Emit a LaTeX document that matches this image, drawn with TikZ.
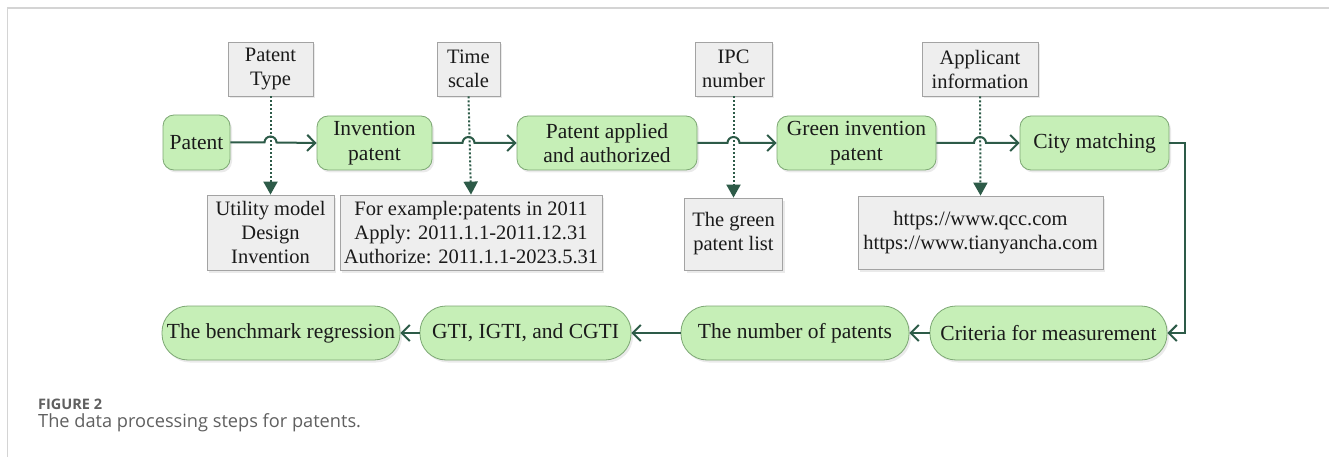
\documentclass[tikz,border=0pt]{standalone}
\usepackage{fontspec}
\setmainfont{Liberation Serif}
\newfontfamily\capfont{Open Sans}
\usetikzlibrary{arrows.meta,shadows,calc}

\definecolor{nodefill}{HTML}{C6EFB7}
\definecolor{nodeedge}{HTML}{7DA874}
\definecolor{flowcol}{HTML}{2D5B48}
\definecolor{notefill}{HTML}{EEEEEE}
\definecolor{noteedge}{HTML}{A3A3A3}
\definecolor{framecol}{HTML}{D4D4D4}
\definecolor{capcol}{HTML}{606060}
\definecolor{inkcol}{HTML}{1A1A1A}

\begin{document}
\begin{tikzpicture}[x=1pt,y=-1pt,
  every node/.style={font=\fontsize{21.5}{24.5}\selectfont, align=center, inner sep=0pt, text=inkcol},
  softshadow/.style={drop shadow={opacity=0.16, shadow xshift=2pt, shadow yshift=-2.5pt}},
  stepbox/.style={draw=nodeedge, line width=0.8pt, fill=nodefill, rounded corners=11pt, softshadow},
  pill/.style={draw=nodeedge, line width=0.8pt, fill=nodefill, rounded corners=26pt, softshadow, minimum height=54pt},
  notebox/.style={draw=noteedge, line width=0.8pt, fill=notefill, softshadow, font=\fontsize{20.5}{24}\selectfont},
  flow/.style={draw=flowcol, line width=2pt, -{Straight Barb[length=8pt,width=16pt,line width=2pt]}},
  hint/.style={draw=flowcol, line width=2pt, dotted, -{Triangle[length=13pt,width=14pt]}},
]
% canvas
\fill[white] (0,0) rectangle (1329,457);
\useasboundingbox (0,0) rectangle (1329,457);
\draw[framecol, line width=2pt] (7,8) -- (1329,8);
\draw[framecol, line width=1pt] (7.5,8) -- (7.5,457);

% main processing chain
\node[stepbox, minimum width=67pt, minimum height=55pt] (s1) at (196.5,142.5) {Patent};
\node[stepbox, minimum width=115pt, minimum height=54pt] (s2) at (374.5,143) {Invention\\patent};
\node[stepbox, minimum width=180pt, minimum height=54pt] (s3) at (607,143) {Patent applied\\and authorized};
\node[stepbox, minimum width=159pt, minimum height=54pt] (s4) at (856.5,143) {Green invention\\patent};
\node[stepbox, minimum width=149pt, minimum height=54pt] (s5) at (1094.5,143) {City matching};

% criteria above the chain
\node[notebox, minimum width=85pt, minimum height=54pt] (t1) at (270.5,69) {Patent\\Type};
\node[notebox, minimum width=63pt, minimum height=54pt] (t2) at (468.5,69) {Time\\scale};
\node[notebox, minimum width=77pt, minimum height=54pt] (t3) at (733.5,69) {IPC\\number};
\node[notebox, minimum width=116pt, minimum height=54pt] (t4) at (980,69) {Applicant\\information};

% details below the chain
\node[notebox, minimum width=127pt, minimum height=75pt] (b1) at (270.5,232.5) {Utility model\\Design\\Invention};
\node[notebox, minimum width=262pt, minimum height=75pt] (b2) at (471,232.5) {For example:patents in 2011\\Apply: 2011.1.1-2011.12.31\\Authorize: 2011.1.1-2023.5.31};
\node[notebox, minimum width=98pt, minimum height=72pt] (b3) at (733.5,234) {The green\\patent list};
\node[notebox, minimum width=245pt, minimum height=73pt] (b4) at (980.5,232.5) {https://www.qcc.com\\https://www.tianyancha.com};

% second row
\node[pill, minimum width=238pt] (r1) at (281,333) {The benchmark regression};
\node[pill, minimum width=211pt] (r2) at (525.5,333) {GTI, IGTI, and CGTI};
\node[pill, minimum width=228pt] (r3) at (795,333) {The number of patents};
\node[pill, minimum width=237pt] (r4) at (1048.5,333) {Criteria for measurement};

% dotted links from criteria to details
\draw[hint] (t1.south) -- (b1.north);
\draw[hint] (t2.south) -- (b2.north);
\draw[hint] (t3.south) -- (b3.north);
\draw[hint] (t4.south) -- (b4.north);

% chain arrows, hopping over the dotted links
\draw[flow] (s1.east) -- ($(t1.south |- s1.east)-(6,0)$) arc[start angle=180,end angle=0,radius=6pt] -- (s2.west);
\draw[flow] (s2.east) -- ($(t2.south |- s2.east)-(6,0)$) arc[start angle=180,end angle=0,radius=6pt] -- (s3.west);
\draw[flow] (s3.east) -- ($(t3.south |- s3.east)-(6,0)$) arc[start angle=180,end angle=0,radius=6pt] -- (s4.west);
\draw[flow] (s4.east) -- ($(t4.south |- s4.east)-(6,0)$) arc[start angle=180,end angle=0,radius=6pt] -- (s5.west);
\draw[flow] (s5.east) -- ++(16,0) |- (r4.east);
\draw[flow] (r4.west) -- (r3.east);
\draw[flow] (r3.west) -- (r2.east);
\draw[flow] (r2.west) -- (r1.east);

% caption
\node[anchor=base west, font=\capfont\bfseries\fontsize{14.5}{16}\selectfont, text=capcol] (figno) at (38,409) {FIGURE 2};
\node[anchor=base west, font=\capfont\fontsize{18.2}{22}\selectfont, text=capcol] (figcap) at (38,427.5) {The data processing steps for patents.};
\end{tikzpicture}
\end{document}
